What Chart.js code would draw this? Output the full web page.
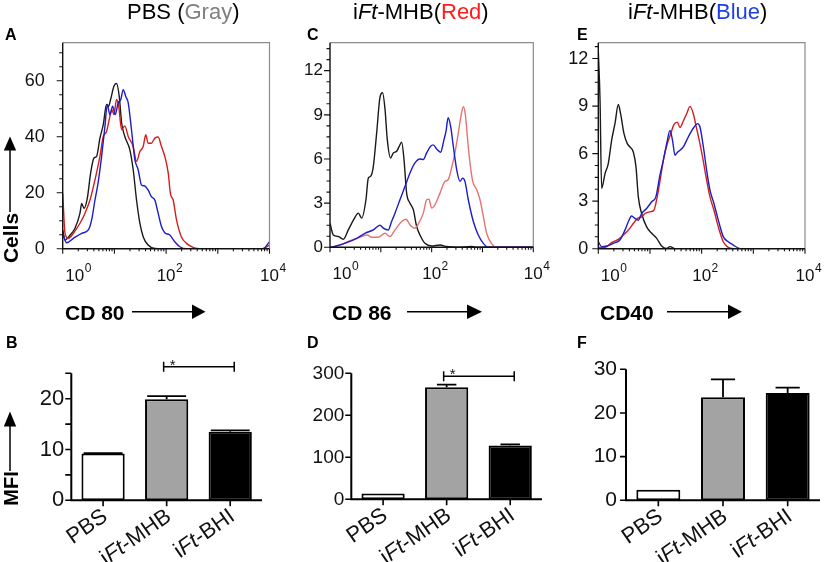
<!DOCTYPE html>
<html>
<head>
<meta charset="utf-8">
<script src="https://cdn.jsdelivr.net/npm/chart.js@4.4.1/dist/chart.umd.min.js"></script>
<style>
  body { margin: 0; background: #fff; }
  #page { position: relative; width: 827px; height: 562px; overflow: hidden; background: #fff; }
  .panel { position: absolute; }
  #labels { position: absolute; left: 0; top: 0; pointer-events: none; }
</style>
</head>
<body>
<div id="page">
  <div class="panel" id="boxA"><canvas id="chartA"></canvas></div>
  <div class="panel" id="boxC"><canvas id="chartC"></canvas></div>
  <div class="panel" id="boxE"><canvas id="chartE"></canvas></div>
  <div class="panel" id="boxB"><canvas id="chartB"></canvas></div>
  <div class="panel" id="boxD"><canvas id="chartD"></canvas></div>
  <div class="panel" id="boxF"><canvas id="chartF"></canvas></div>

  <svg id="labels" width="827" height="562" font-family="Liberation Sans, Arial, sans-serif">
    <!-- column titles -->
    <text x="127" y="18.5" font-size="22">PBS (<tspan fill="#7f7f7f">Gray</tspan>)</text>
    <text x="353" y="18.5" font-size="22">i<tspan font-style="italic">Ft</tspan>-MHB(<tspan fill="#ff1c1c">Red</tspan>)</text>
    <text x="628" y="18.5" font-size="22">i<tspan font-style="italic">Ft</tspan>-MHB(<tspan fill="#1f3fe6">Blue</tspan>)</text>

    <!-- panel letters -->
    <g font-size="16" font-weight="bold">
      <text x="5" y="40">A</text>
      <text x="307" y="40">C</text>
      <text x="577" y="40">E</text>
      <text x="6" y="348">B</text>
      <text x="307" y="348">D</text>
      <text x="577" y="348">F</text>
    </g>

    <!-- axis titles with arrows -->
    <g font-size="21" font-weight="bold">
      <text x="65" y="320">CD 80</text>
      <text x="332" y="320">CD 86</text>
      <text x="600" y="320">CD40</text>
      <text transform="translate(18,238) rotate(-90)" text-anchor="middle">Cells</text>
      <text transform="translate(18,488.5) rotate(-90)" text-anchor="middle" font-size="20">MFI</text>
    </g>
    <g stroke="#000" stroke-width="1.5">
      <line x1="132" y1="311.7" x2="193" y2="311.7"/>
      <line x1="407" y1="311.7" x2="468" y2="311.7"/>
      <line x1="667" y1="311.7" x2="729" y2="311.7"/>
      <line x1="10" y1="212" x2="10" y2="149"/>
      <line x1="10" y1="471" x2="10" y2="426"/>
    </g>
    <g fill="#000">
      <polygon points="205.5,311.7 192,304.5 192,318.9"/>
      <polygon points="482,311.7 467,304.5 467,318.9"/>
      <polygon points="742,311.7 728,304.5 728,318.9"/>
      <polygon points="10,136.5 3.8,150.5 16.2,150.5"/>
      <polygon points="10,411.5 3.8,426.5 16.2,426.5"/>
    </g>
  </svg>
</div>

<script>
// ---------- data ----------

// flow histograms: [fluorescence, cells]
const logTickValues = [1, 100, 10000];
const logTickExponents = ['0', '2', '4'];
const logDecades = [1, 10, 100, 1000, 10000];

const cd80YTicks = [0, 20, 40, 60];
const cd86YTicks = [0, 3, 6, 9, 12];
const cd40YTicks = [0, 3, 6, 9, 12];

const cd80Black = [[1, 6.7], [1.11, 3.1], [1.39, 4.9], [1.73, 7.3], [2.16, 12.7], [2.33, 16.2], [2.58, 14.4],
  [2.99, 18], [3.47, 27], [4.02, 32.4], [4.53, 33], [5.25, 39.5], [6.09, 44.3], [7.06, 51.5], [7.71, 50.9],
  [8.44, 53.3], [9.79, 58], [11.0, 59], [12.4, 54.4], [13.8, 44.9], [15.9, 40.1], [19.9, 35.3], [23.1, 28.2],
  [26.8, 17.4], [31.1, 9.1], [36.0, 4.3], [44.8, 1.3], [60.5, 0.1], [87.7, 0], [10000, 0]];
const cd80Red = [[1, 19.8], [1.11, 5.5], [1.29, 3.7], [1.61, 5.5], [2.16, 9.1], [2.70, 12.7], [3.37, 17.4],
  [4.21, 24.6], [5.25, 33], [6.09, 40.1], [7.06, 41.9], [8.19, 47.3], [8.94, 49.7], [9.79, 47.9], [11.0, 53.3],
  [12.1, 50.9], [13.8, 42.5], [15.9, 43.9], [18.5, 40.1], [23.1, 36.5], [26.8, 31.2], [31.1, 34.7], [36.0, 36.5],
  [40.5, 40.7], [44.8, 37.7], [52.0, 37.7], [60.5, 39.5], [70.2, 39.9], [81.4, 36.5], [94.4, 33], [110, 27],
  [121, 19.8], [137, 17.4], [159, 10.3], [197, 4.3], [248, 1.9], [333, 0.5], [448, 0], [7400, 0], [10000, 1.3]];
const cd80Blue = [[1, 5.5], [1.19, 2.1], [1.61, 3.7], [2.33, 5.5], [3.13, 6.7], [3.63, 10.3], [4.21, 17.4],
  [4.88, 24], [5.66, 33], [6.56, 43.7], [7.28, 51.5], [8.19, 47.9], [9.23, 50.9], [10.4, 47.9], [11.8, 52.1],
  [13.3, 53.3], [14.8, 56.8], [16.6, 54.4], [18.5, 52.1], [21.4, 42.5], [24.9, 31.8], [28.8, 28.2], [33.4, 22.8],
  [38.8, 22.4], [44.8, 21], [52.0, 18.6], [60.5, 17.4], [70.2, 12.7], [81.4, 7.9], [94.4, 5.7], [118, 4.9],
  [147, 2.5], [184, 0.7], [248, 0], [7400, 0], [10000, 2.5]];

const cd86Black = [[1, 1.64], [1.16, 0.84], [1.46, 0.73], [1.83, 0.55], [2.29, 1.18], [2.96, 1.91], [3.61, 2.32],
  [4.2, 1.98], [5.1, 3.23], [5.67, 4.7], [6.3, 4.82], [7.12, 5.5], [8.28, 7.77], [9.63, 10.2], [10.8, 10.5],
  [12.1, 9.37], [13.4, 7.32], [15.6, 6.07], [17.6, 6.41], [20.5, 6.52], [23.0, 6.86], [25.7, 7.14], [28.6, 5.96],
  [32.2, 3.68], [37.5, 3.0], [43.6, 2.55], [50.7, 1.41], [58.9, 0.84], [73.9, 0.27], [100, 0.09], [146, 0.16],
  [197, 0.05], [311, 0], [614, 0.05], [769, 0], [10000, 0]];
const cd86Red = [[1, 0], [1.57, 0.16], [2.47, 0.45], [3.89, 0.68], [5.42, 0.84], [6.6, 0.68], [8.92, 0.68],
  [12.1, 0.95], [15.1, 0.73], [19.0, 1.18], [25.7, 1.75], [31.2, 1.91], [37.5, 1.52], [46.9, 1.3], [54.6, 1.59],
  [68.5, 2.32], [79.7, 3.23], [88.4, 3.27], [100, 2.66], [116, 2.89], [146, 3.68], [183, 4.48], [211, 4.59],
  [247, 5.39], [287, 6.41], [335, 7.77], [377, 8.91], [420, 9.55], [460, 9.02], [510, 7.32], [568, 5.73],
  [643, 4.48], [769, 3.91], [894, 3.23], [1040, 2.09], [1210, 0.95], [1500, 0.27], [1900, 0], [10000, 0]];
const cd86Blue = [[1, 0], [1.35, 0.09], [2.13, 0.32], [3.35, 0.61], [4.87, 0.95], [7.12, 1.18], [9.63, 1.5],
  [11.2, 1.3], [14.0, 1.18], [16.3, 1.75], [19.0, 2.32], [23.8, 3.23], [29.9, 4.14], [37.5, 5.05], [46.9, 5.73],
  [58.9, 6.0], [68.5, 5.96], [79.7, 6.41], [95.2, 6.86], [108, 6.96], [125, 6.68], [150, 6.46], [175, 7.32],
  [192, 7.89], [211, 8.8], [236, 8.23], [267, 6.86], [311, 5.27], [361, 4.48], [407, 4.7], [452, 4.48],
  [526, 3.23], [661, 1.75], [826, 0.84], [1040, 0.27], [1310, 0], [10000, 0]];

const cd40Black = [[1, 12.5], [1.08, 9.4], [1.16, 3.8], [1.35, 4.74], [1.56, 5.37], [1.81, 6.84], [2.1, 7.89],
  [2.44, 9.1], [2.7, 8.52], [3.14, 7.26], [3.64, 6.63], [4.1, 6.42], [4.76, 6.1], [5.36, 5.16], [5.95, 3.27],
  [6.9, 2.22], [8.62, 1.38], [10.8, 0.97], [13.5, 0.65], [16.8, 0.17], [21.0, 0.02], [24.4, 0.13], [30.5, 0],
  [100, 0]];
const cd40Red = [[1, 0.08], [1.35, 0.08], [1.81, 0.38], [2.44, 0.59], [3.05, 0.86], [3.81, 1.17], [4.76, 1.59],
  [5.69, 1.91], [6.9, 2.01], [7.99, 2.22], [10.0, 2.33], [11.9, 2.43], [13.8, 3.27], [16.1, 4.53], [18.7, 5.79],
  [21.7, 6.63], [25.2, 7.26], [29.2, 7.85], [33.8, 7.99], [38.1, 7.64], [44.2, 8.06], [51.3, 8.52], [59.5, 8.98],
  [69.0, 8.52], [77.5, 7.78], [89.9, 6.84], [104, 5.79], [125, 4.32], [145, 3.27], [173, 2.43], [210, 1.38],
  [262, 0.44], [327, 0.08], [410, 0], [10000, 0]];
const cd40Blue = [[1, 0.44], [1.16, 0.13], [1.45, 0.17], [1.95, 0.34], [2.62, 0.55], [3.28, 1.17], [3.81, 1.7],
  [4.42, 2.06], [5.13, 1.91], [5.95, 1.8], [6.9, 2.22], [8.62, 2.54], [10.8, 2.96], [13.0, 3.27], [15.6, 4.64],
  [18.1, 5.58], [21.7, 6.84], [24.4, 7.47], [27.3, 6.84], [30.5, 5.9], [34.4, 6.1], [38.1, 6.21], [44.2, 6.42],
  [51.3, 6.84], [59.5, 7.26], [71.6, 7.68], [82.7, 7.89], [92.9, 7.68], [108, 6.42], [125, 4.95], [145, 3.69],
  [173, 2.85], [210, 1.8], [262, 0.76], [327, 0.44], [410, 0.23], [512, 0.04], [640, 0], [10000, 0]];

// MFI bar charts
const groups = ['PBS', 'iFt-MHB', 'iFt-BHI'];
const cd80Mfi = [9.2, 19.9, 13.5];
const cd80Sem = [0.1, 0.6, 0.25];
const cd86Mfi = [14, 267, 128];
const cd86Sem = [0, 6, 3];
const cd40Mfi = [2.4, 23.6, 24.6];
const cd40Sem = [0, 4.1, 1.2];
const cd80MfiTicks = [0, 10, 20];
const cd80MfiMinor = [5, 15, 25];
const cd86MfiTicks = [0, 100, 200, 300];
const cd40MfiTicks = [0, 10, 20, 30];

// ---------- drawing ----------
const FONT = '"Liberation Sans", Arial, sans-serif';

function placeBox(id, box) {
    const el = document.getElementById(id).parentNode;
    el.style.left = box.left + 'px';
    el.style.top = box.top + 'px';
    el.style.width = box.width + 'px';
    el.style.height = box.height + 'px';
}

// pin axis sizes so the plot area lands exactly where it should
function fixedAxis(size, vertical) {
    return scale => {
        if (vertical) scale.width = size; else scale.height = size;
        scale.paddingTop = 0;
        scale.paddingBottom = 0;
        scale.paddingLeft = 0;
        scale.paddingRight = 0;
    };
}

const histoAxes = {
    id: 'histoAxes',
    afterDraw(chart, args, opts) {
        const { ctx, chartArea: a, scales: { x, y } } = chart;
        ctx.save();
        // frame
        ctx.strokeStyle = '#8c8c8c';
        ctx.lineWidth = 1.2;
        ctx.beginPath();
        ctx.moveTo(a.left, a.top);
        ctx.lineTo(a.right, a.top);
        ctx.lineTo(a.right, a.bottom);
        ctx.stroke();
        ctx.strokeStyle = '#111';
        ctx.lineWidth = 1.4;
        ctx.beginPath();
        ctx.moveTo(a.left, a.top);
        ctx.lineTo(a.left, a.bottom);
        ctx.lineTo(a.right, a.bottom);
        ctx.stroke();

        // y ticks, major and minor
        ctx.lineWidth = 1.1;
        ctx.beginPath();
        for (let v = 0; v <= y.max + 1e-6; v += opts.minorStep) {
            const py = y.getPixelForValue(v);
            const major = opts.yTicks.some(t => Math.abs(t - v) < 1e-6);
            ctx.moveTo(a.left - (major ? 6 : 3.5), py);
            ctx.lineTo(a.left, py);
        }
        // x ticks, decades and 2..9
        logDecades.forEach(dec => {
            for (let m = 1; m <= 9; m++) {
                const v = m * dec;
                if (v > x.max) break;
                const px = x.getPixelForValue(v);
                ctx.moveTo(px, a.bottom);
                ctx.lineTo(px, a.bottom + (m === 1 ? 5 : 2.5));
            }
        });
        ctx.stroke();

        // 10^n labels
        ctx.fillStyle = '#111';
        ctx.textBaseline = 'alphabetic';
        logTickValues.forEach((v, i) => {
            const px = x.getPixelForValue(v) + (i === 0 ? 12 : 0);
            ctx.font = `17px ${FONT}`;
            ctx.textAlign = 'center';
            ctx.fillText('10', px, a.bottom + 32);
            const w = ctx.measureText('10').width;
            ctx.font = `12px ${FONT}`;
            ctx.textAlign = 'left';
            ctx.fillText(logTickExponents[i], px + w / 2 + 0.5, a.bottom + 23);
        });
        ctx.restore();
    }
};

function makeHistogram(id, box, area, lines, yMax, yTicks, minorStep, fontSize, labelPad) {
    placeBox(id, box);
    return new Chart(document.getElementById(id), {
        type: 'line',
        data: {
            datasets: lines.map(([pts, color]) => ({
                data: pts.map(([x, y]) => ({ x, y })),
                borderColor: color,
                borderWidth: 1.4,
                pointRadius: 0,
                tension: 0.2,
                cubicInterpolationMode: 'monotone',
                fill: false
            }))
        },
        options: {
            responsive: true,
            maintainAspectRatio: false,
            animation: false,
            layout: { padding: { left: 0, top: area.t - box.top, right: box.left + box.width - area.r, bottom: 0 } },
            plugins: {
                legend: { display: false },
                tooltip: { enabled: false },
                histoAxes: { yTicks, minorStep }
            },
            scales: {
                x: {
                    type: 'logarithmic',
                    min: 1,
                    max: 10000,
                    grid: { display: false, drawTicks: false },
                    border: { display: false },
                    ticks: { display: false },
                    afterFit: fixedAxis(box.top + box.height - area.b, false)
                },
                y: {
                    min: 0,
                    max: yMax,
                    grid: { display: false, drawTicks: false },
                    border: { display: false },
                    ticks: { font: { family: FONT, size: fontSize }, color: '#111', padding: labelPad },
                    afterBuildTicks: s => { s.ticks = yTicks.map(v => ({ value: v })); },
                    afterFit: fixedAxis(area.l - box.left, true)
                }
            }
        },
        plugins: [histoAxes]
    });
}

const barAxes = {
    id: 'barAxes',
    afterDatasetsDraw(chart, args, opts) {
        // error bars (upper half only)
        const { ctx, scales: { y } } = chart;
        const values = chart.data.datasets[0].data;
        ctx.save();
        ctx.strokeStyle = '#000';
        ctx.lineWidth = 1.8;
        chart.getDatasetMeta(0).data.forEach((bar, i) => {
            const err = opts.errors[i];
            if (!err) return;
            const top = y.getPixelForValue(values[i] + err);
            const half = bar.width * opts.capFrac / 2;
            ctx.beginPath();
            ctx.moveTo(bar.x, bar.y);
            ctx.lineTo(bar.x, top);
            ctx.moveTo(bar.x - half, top);
            ctx.lineTo(bar.x + half, top);
            ctx.stroke();
        });
        ctx.restore();
    },
    afterDraw(chart, args, opts) {
        const { ctx, chartArea: a, scales: { x, y } } = chart;
        ctx.save();
        ctx.strokeStyle = '#000';
        ctx.lineWidth = 2;
        ctx.beginPath();
        ctx.moveTo(a.left, a.top);
        ctx.lineTo(a.left, a.bottom);
        ctx.lineTo(a.right, a.bottom);
        ctx.stroke();

        ctx.lineWidth = 1.6;
        ctx.beginPath();
        opts.yTicks.concat(opts.yMinor).forEach(v => {
            const py = y.getPixelForValue(v);
            ctx.moveTo(a.left - 6, py);
            ctx.lineTo(a.left, py);
        });
        groups.forEach((g, i) => {
            const px = x.getPixelForValue(i);
            ctx.moveTo(px, a.bottom);
            ctx.lineTo(px, a.bottom + 6);
        });
        ctx.stroke();

        // rotated group names with italic "Ft"
        ctx.fillStyle = '#111';
        groups.forEach((label, i) => {
            const parts = label.split(/(Ft)/).filter(Boolean);
            const fonts = parts.map(p => (p === 'Ft' ? 'italic ' : '') + `22px ${FONT}`);
            const widths = parts.map((p, k) => { ctx.font = fonts[k]; return ctx.measureText(p).width; });
            ctx.save();
            ctx.translate(x.getPixelForValue(i) - 4, a.bottom + 5);
            ctx.rotate(-35 * Math.PI / 180);
            ctx.textBaseline = 'top';
            ctx.textAlign = 'left';
            let cx = -widths.reduce((s, w) => s + w, 0);
            parts.forEach((p, k) => {
                ctx.font = fonts[k];
                ctx.fillText(p, cx, 0);
                cx += widths[k];
            });
            ctx.restore();
        });

        // significance bracket
        const b = opts.bracket;
        if (b) {
            const x1 = x.getPixelForValue(b.from) - 3;
            const x2 = x.getPixelForValue(b.to) + 4;
            const py = y.getPixelForValue(b.value);
            ctx.lineWidth = 1.5;
            ctx.beginPath();
            ctx.moveTo(x1, py); ctx.lineTo(x2, py);
            ctx.moveTo(x1, py - 5); ctx.lineTo(x1, py + 5);
            ctx.moveTo(x2, py - 5); ctx.lineTo(x2, py + 5);
            ctx.stroke();
            ctx.font = `15px ${FONT}`;
            ctx.textAlign = 'center';
            ctx.textBaseline = 'alphabetic';
            ctx.fillText('*', x1 + 9, py + 3);
        }
        ctx.restore();
    }
};

function makeBars(id, box, area, values, errors, yMax, yTicks, yMinor, fontSize, labelPad, capFrac, bracket) {
    placeBox(id, box);
    return new Chart(document.getElementById(id), {
        type: 'bar',
        data: {
            labels: groups,
            datasets: [{
                data: values,
                backgroundColor: ['#ffffff', '#a3a3a3', '#000000'],
                borderColor: '#000',
                borderWidth: 2,
                borderSkipped: false,
                barPercentage: 0.68,
                categoryPercentage: 1
            }]
        },
        options: {
            responsive: true,
            maintainAspectRatio: false,
            animation: false,
            layout: { padding: { left: 0, top: area.t - box.top, right: box.left + box.width - area.r, bottom: 0 } },
            plugins: {
                legend: { display: false },
                tooltip: { enabled: false },
                barAxes: { errors, yTicks, yMinor, capFrac, bracket }
            },
            scales: {
                x: {
                    grid: { display: false, drawTicks: false },
                    border: { display: false },
                    ticks: { display: false },
                    afterFit: fixedAxis(box.top + box.height - area.b, false)
                },
                y: {
                    min: 0,
                    max: yMax,
                    grid: { display: false, drawTicks: false },
                    border: { display: false },
                    ticks: { font: { family: FONT, size: fontSize }, color: '#111', padding: labelPad },
                    afterBuildTicks: s => { s.ticks = yTicks.map(v => ({ value: v })); },
                    afterFit: fixedAxis(area.l - box.left, true)
                }
            }
        },
        plugins: [barAxes]
    });
}

document.addEventListener('DOMContentLoaded', () => {
    makeHistogram('chartA', { left: 0, top: 0, width: 296, height: 295 }, { l: 62.7, t: 42.7, r: 269.5, b: 248.7 },
        [[cd80Blue, '#1c1cc8'], [cd80Red, '#d41e1e'], [cd80Black, '#1a1a1a']], 73.6, cd80YTicks, 5, 18, 18);
    makeHistogram('chartC', { left: 282, top: 0, width: 268, height: 295 }, { l: 330, t: 42.7, r: 533.3, b: 247.3 },
        [[cd86Blue, '#1c1cc8'], [cd86Red, '#e57373'], [cd86Black, '#1a1a1a']], 13.9, cd86YTicks, 0.75, 17, 7);
    makeHistogram('chartE', { left: 550, top: 0, width: 277, height: 295 }, { l: 598.3, t: 42.7, r: 805, b: 248.7 },
        [[cd40Blue, '#1c1cc8'], [cd40Red, '#d41e1e'], [cd40Black, '#1a1a1a']], 13, cd40YTicks, 0.75, 18, 10);

    makeBars('chartB', { left: 0, top: 330, width: 282, height: 232 }, { l: 71.3, t: 373.3, r: 262, b: 500.3 },
        cd80Mfi, cd80Sem, 25, cd80MfiTicks, cd80MfiMinor, 22, 7, 0.9, { from: 1, to: 2, value: 26.3 });
    makeBars('chartD', { left: 282, top: 330, width: 268, height: 232 }, { l: 351.3, t: 373.3, r: 542, b: 499.3 },
        cd86Mfi, cd86Sem, 300, cd86MfiTicks, [], 19, 7, 0.45, { from: 1, to: 2, value: 293 });
    makeBars('chartF', { left: 550, top: 330, width: 277, height: 232 }, { l: 626, t: 369.3, r: 820, b: 500.3 },
        cd40Mfi, cd40Sem, 30, cd40MfiTicks, [], 21, 9, 0.55, null);
});
</script>
</body>
</html>
